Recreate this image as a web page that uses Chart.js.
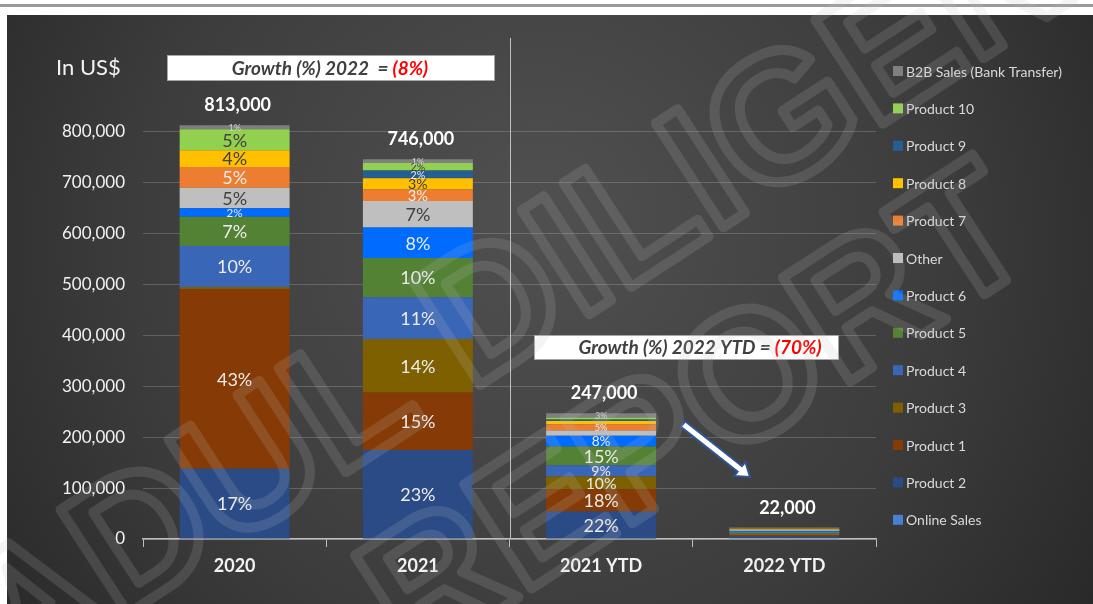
<!DOCTYPE html>
<html>
<head>
<meta charset="utf-8">
<script src="https://cdn.jsdelivr.net/npm/chart.js@4.4.1/dist/chart.umd.min.js"></script>
<style>
  html, body { margin: 0; padding: 0; background: #fff; }
  #wrap { width: 1093px; height: 604px; position: relative; }
</style>
</head>
<body>
<div id="wrap"><canvas id="salesChart"></canvas></div>
<script>
// categories
var years = ['2020', '2021', '2021 YTD', '2022 YTD'];

// series values (US$), bottom of the stack first
var onlineSales = [0, 0, 0, 2000];
var product2 = [138000, 175000, 54000, 3000];
var product1 = [353000, 113000, 44000, 3000];
var product3 = [4000, 105000, 25000, 2000];
var product4 = [81000, 82000, 22000, 2000];
var product5 = [57000, 77000, 37000, 2000];
var product6 = [17000, 60000, 21000, 1000];
var other = [40000, 52000, 10000, 2000];
var product7 = [41000, 23000, 12000, 1000];
var product8 = [33000, 22000, 7000, 2000];
var product9 = [0, 15000, 3000, 1000];
var product10 = [41000, 15000, 4000, 1000];
var b2bSales = [8000, 7000, 8000, 0];

// share labels printed inside the segments
var pctOnline = ['', '', '', ''];
var pctP2 = ['17%', '23%', '22%', ''];
var pctP1 = ['43%', '15%', '18%', ''];
var pctP3 = ['', '14%', '10%', ''];
var pctP4 = ['10%', '11%', '9%', ''];
var pctP5 = ['7%', '10%', '15%', ''];
var pctP6 = ['2%', '8%', '8%', ''];
var pctOther = ['5%', '7%', '', ''];
var pctP7 = ['5%', '3%', '5%', ''];
var pctP8 = ['4%', '3%', '', ''];
var pctP9 = ['', '2%', '', ''];
var pctP10 = ['5%', '2%', '', ''];
var pctB2B = ['1%', '1%', '3%', ''];

var yTicksMax = 900000;
var FONT = 'Lato, "Open Sans", sans-serif';

function series(label, data, color, pct, textColor) {
    return {
        label: label,
        data: data,
        backgroundColor: color,
        borderWidth: 0,
        pct: pct,
        textColor: textColor || '#ececec'
    };
}

var datasets = [
    series('Online Sales', onlineSales, '#4a7fd6', pctOnline),
    series('Product 2', product2, '#2b4b87', pctP2),
    series('Product 1', product1, '#863a06', pctP1),
    series('Product 3', product3, '#7f6000', pctP3),
    series('Product 4', product4, '#3a66b8', pctP4),
    series('Product 5', product5, '#548235', pctP5),
    series('Product 6', product6, '#006cff', pctP6),
    series('Other', other, '#bfbfbf', pctOther, '#404040'),
    series('Product 7', product7, '#ed7d31', pctP7),
    series('Product 8', product8, '#ffc000', pctP8, '#404040'),
    series('Product 9', product9, '#255e91', pctP9),
    series('Product 10', product10, '#92d050', pctP10, '#404040'),
    series('B2B Sales (Bank Transfer)', b2bSales, '#7f7f7f', pctB2B, '#d0d0d0')
];

// page strip + dark panel behind the chart
var backgroundPlugin = {
    id: 'panel',
    beforeDraw: function (chart) {
        var c = chart.ctx;
        c.save();
        c.fillStyle = '#ffffff';
        c.fillRect(0, 0, chart.width, chart.height);
        c.fillStyle = '#9a9a9a';
        c.fillRect(0, 4, chart.width, 3);
        var g = c.createRadialGradient(540, 220, 30, 540, 260, 720);
        g.addColorStop(0, '#4f4f4f');
        g.addColorStop(0.55, '#3c3c3c');
        g.addColorStop(1, '#242424');
        c.fillStyle = g;
        c.fillRect(7, 15, chart.width - 7, chart.height - 15);
        c.restore();
    }
};

function drawBox(c, x, y, w, h, parts, cx) {
    c.fillStyle = '#ffffff';
    c.fillRect(x, y, w, h);
    c.strokeStyle = '#a6a6a6';
    c.lineWidth = 1;
    c.strokeRect(x + 0.5, y + 0.5, w, h);
    c.font = 'italic bold 19px ' + FONT;
    c.textBaseline = 'middle';
    c.textAlign = 'left';
    var total = 0;
    parts.forEach(function (p) { total += c.measureText(p[0]).width; });
    var px = cx - total / 2;
    parts.forEach(function (p) {
        c.fillStyle = p[1];
        c.fillText(p[0], px, y + h / 2 + 1);
        px += c.measureText(p[0]).width;
    });
}

function drawArrow(c, x1, y1, x2, y2) {
    var ang = Math.atan2(y2 - y1, x2 - x1);
    var len = Math.hypot(x2 - x1, y2 - y1);
    var sw = 3.5, hw = 9, hl = 13;
    c.save();
    c.translate(x1, y1);
    c.rotate(ang);
    c.beginPath();
    c.moveTo(0, -sw);
    c.lineTo(len - hl, -sw);
    c.lineTo(len - hl, -hw);
    c.lineTo(len, 0);
    c.lineTo(len - hl, hw);
    c.lineTo(len - hl, sw);
    c.lineTo(0, sw);
    c.closePath();
    c.fillStyle = '#ffffff';
    c.fill();
    c.strokeStyle = '#2f5597';
    c.lineWidth = 2;
    c.stroke();
    c.restore();
}

var decorPlugin = {
    id: 'decor',
    afterDraw: function (chart) {
        var c = chart.ctx;
        var xs = chart.scales.x, ys = chart.scales.y;
        var area = chart.chartArea;
        c.save();

        // separator between full years and YTD
        var sepX = Math.round((xs.getPixelForValue(1) + xs.getPixelForValue(2)) / 2) + 0.5;
        c.strokeStyle = '#bfbfbf';
        c.lineWidth = 1;
        c.beginPath();
        c.moveTo(sepX, 38);
        c.lineTo(sepX, area.bottom);
        c.stroke();

        // segment share labels
        c.textAlign = 'center';
        c.textBaseline = 'middle';
        chart.data.datasets.forEach(function (ds, di) {
            var meta = chart.getDatasetMeta(di);
            meta.data.forEach(function (bar, i) {
                var txt = ds.pct[i];
                if (!txt) return;
                var h = bar.base - bar.y;
                var size = Math.max(9, Math.min(18, h + 3));
                c.font = size + 'px ' + FONT;
                c.fillStyle = ds.textColor;
                c.fillText(txt, bar.x, (bar.y + bar.base) / 2 + 1);
            });
        });

        // stack totals
        c.font = 'bold 18px ' + FONT;
        c.fillStyle = '#ffffff';
        years.forEach(function (y, i) {
            var total = 0;
            chart.data.datasets.forEach(function (ds) { total += ds.data[i]; });
            var top = ys.getPixelForValue(total);
            c.fillText(total.toLocaleString('en-US'), xs.getPixelForValue(i) + 3, top - 20);
        });

        // axis caption
        c.textAlign = 'left';
        c.font = '22px ' + FONT;
        c.fillStyle = '#f2f2f2';
        c.fillText('In US$', 56, 68);

        // growth boxes
        drawBox(c, 167, 55, 327, 25, [['Growth (%) 2022  = ', '#404040'], ['(8%)', '#ff0000']], 330);
        drawBox(c, 534, 335, 304, 24, [['Growth (%) 2022 YTD = ', '#404040'], ['(70%)', '#ff0000']], 700);

        drawArrow(c, 683, 424, 750, 477);

        // legend (top of stack first)
        c.font = '14px ' + FONT;
        c.textBaseline = 'middle';
        var items = chart.data.datasets.slice().reverse();
        items.forEach(function (ds, k) {
            var ly = 71 + k * 37.4;
            c.fillStyle = ds.backgroundColor;
            c.fillRect(893, ly - 5, 10, 10);
            c.fillStyle = '#d9d9d9';
            c.fillText(ds.label, 906, ly + 1);
        });

        // watermark
        c.lineWidth = 10;
        c.strokeStyle = 'rgba(190,190,190,0.17)';
        c.lineJoin = 'round';
        c.font = 'bold 180px "Liberation Sans", sans-serif';
        c.textAlign = 'center';
        c.textBaseline = 'middle';
        c.save();
        c.translate(520, 300);
        c.rotate(-33 * Math.PI / 180);
        c.strokeText('PADUL DILIGENT', 0, 0);
        c.restore();
        c.save();
        c.translate(700, 420);
        c.rotate(-33 * Math.PI / 180);
        c.strokeText('REPORT', 0, 0);
        c.restore();

        c.restore();
    }
};

var ctx = document.getElementById('salesChart').getContext('2d');
var salesChart = new Chart(ctx, {
    type: 'bar',
    data: {
        labels: years,
        datasets: datasets
    },
    options: {
        responsive: true,
        maintainAspectRatio: false,
        animation: false,
        layout: {
            padding: { top: 81, right: 217, left: 0, bottom: 0 }
        },
        datasets: {
            bar: { categoryPercentage: 1, barPercentage: 0.6 }
        },
        scales: {
            x: {
                stacked: true,
                grid: {
                    drawOnChartArea: false,
                    drawTicks: true,
                    tickLength: 8,
                    color: '#bfbfbf'
                },
                border: { display: true, color: '#bfbfbf', width: 1.5 },
                ticks: {
                    color: '#f2f2f2',
                    padding: 8,
                    font: { family: FONT, size: 18, weight: 'bold' }
                },
                afterFit: function (scale) { scale.height = 65; }
            },
            y: {
                stacked: true,
                min: 0,
                max: yTicksMax,
                border: { display: false },
                grid: {
                    drawTicks: false,
                    color: function (c) {
                        return c.tick && c.tick.value === yTicksMax ? 'rgba(0,0,0,0)' : 'rgba(190,190,190,0.28)';
                    }
                },
                ticks: {
                    stepSize: 100000,
                    padding: 18,
                    color: '#f2f2f2',
                    font: { family: FONT, size: 17 },
                    callback: function (v) {
                        return v === yTicksMax ? '' : v.toLocaleString('en-US');
                    }
                },
                afterFit: function (scale) { scale.width = 143; }
            }
        },
        plugins: {
            legend: { display: false },
            tooltip: { enabled: true, mode: 'index' },
            title: { display: false }
        }
    },
    plugins: [backgroundPlugin, decorPlugin]
});
</script>
</body>
</html>
